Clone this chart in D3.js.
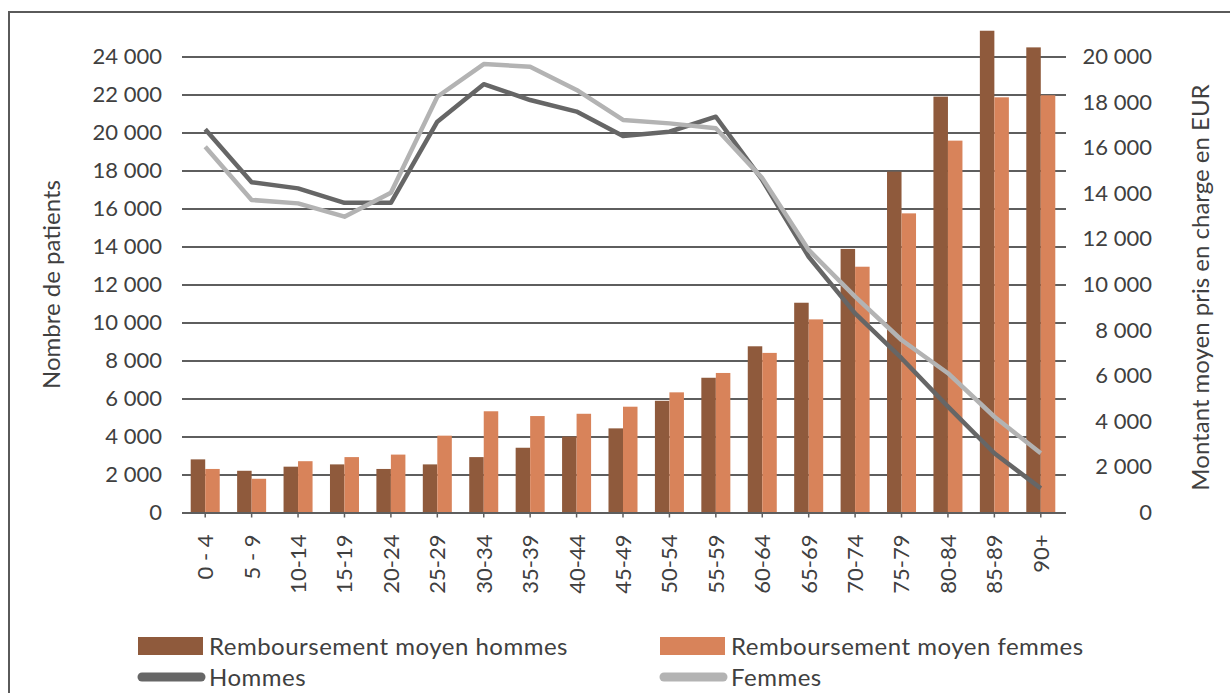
<!DOCTYPE html>
<html><head><meta charset="utf-8">
<script src="https://cdn.jsdelivr.net/npm/d3@7"></script>
<style>
body{margin:0;background:#fff;}
text{font-family:Lato,"Open Sans",sans-serif;fill:#404040;}
</style></head><body>
<svg id="chart" width="1230" height="693"></svg>
<script>
// ---- data ----
const categories = ["0 - 4","5 - 9","10-14","15-19","20-24","25-29","30-34","35-39","40-44","45-49","50-54","55-59","60-64","65-69","70-74","75-79","80-84","85-89","90+"];
// Remboursement moyen (EUR, right axis)
const rembHommes = [2330,1830,2010,2110,1910,2110,2430,2840,3330,3690,4900,5910,7290,9200,11560,14950,18240,21130,20400];
const rembFemmes = [1910,1480,2250,2430,2540,3370,4440,4230,4330,4640,5270,6120,7000,8470,10780,13120,16310,18210,18300];
// Nombre de patients (left axis)
const patientsHommes = [20170,17380,17060,16300,16300,20570,22540,21710,21100,19820,20040,20830,17500,13460,10480,8120,5570,3120,1270];
const patientsFemmes = [19250,16450,16270,15570,16830,21880,23600,23460,22240,20660,20480,20220,17600,13820,11360,9080,7330,5040,3120];
// tick values
const leftTicks = [0,2000,4000,6000,8000,10000,12000,14000,16000,18000,20000,22000,24000];
const rightTicks = [0,2000,4000,6000,8000,10000,12000,14000,16000,18000,20000];
const leftTitle = "Nombre de patients";
const rightTitle = "Montant moyen pris en charge en EUR";
const seriesNames = ["Remboursement moyen hommes","Remboursement moyen femmes","Hommes","Femmes"];

// ---- layout ----
const W = 1230, H = 693;
const plot = {left:182, right:1064, top:56.5, bottom:512.5};
const colors = {barH:"#8f5a3c", barF:"#d8835a", lineH:"#666666", lineF:"#b3b3b3", grid:"#5e5e5e"};

const svg = d3.select("#chart");
svg.append("rect").attr("width", W).attr("height", H).attr("fill", "#fff");
svg.append("path").attr("d", `M9,${H+5}V12H${W+5}`)
  .attr("fill","none").attr("stroke","#5a5a5a").attr("stroke-width",2);

const x = d3.scaleBand().domain(categories).range([plot.left, plot.right])
  .paddingInner(0.375).paddingOuter(0.1875);
const xSub = d3.scaleBand().domain(["h","f"]).range([0, x.bandwidth()]);
const yL = d3.scaleLinear().domain([0,24000]).range([plot.bottom, plot.top]);
const yR = d3.scaleLinear().domain([0,20000]).range([plot.bottom, plot.top]);
const fmt = d3.formatLocale({decimal:",", thousands:" ", grouping:[3], currency:["","€"]}).format(",d");

// left axis + gridlines
const gL = svg.append("g").attr("transform",`translate(${plot.left},0)`)
  .call(d3.axisLeft(yL).tickValues(leftTicks).tickFormat(fmt)
    .tickSize(-(plot.right - plot.left + 2)).tickPadding(20));
gL.select(".domain").remove();
gL.selectAll("line").attr("stroke", colors.grid).attr("stroke-width", 2.2);
gL.selectAll("text").attr("font-size", 22).attr("font-family", "Lato").attr("fill","#404040");

// right axis
const gR = svg.append("g").attr("transform",`translate(${plot.right},0)`)
  .call(d3.axisRight(yR).tickValues(rightTicks).tickFormat(fmt).tickSize(0).tickPadding(88));
gR.select(".domain").remove();
gR.selectAll("text").attr("text-anchor","end").attr("font-size", 22).attr("font-family", "Lato").attr("fill","#404040");

// bars
const bars = svg.append("g");
bars.selectAll("rect.h").data(categories).join("rect").attr("class","h")
  .attr("x", d => x(d) + xSub("h")).attr("width", xSub.bandwidth())
  .attr("y", (d,i) => yR(rembHommes[i])).attr("height", (d,i) => yR(0) - yR(rembHommes[i]))
  .attr("fill", colors.barH);
bars.selectAll("rect.f").data(categories).join("rect").attr("class","f")
  .attr("x", d => x(d) + xSub("f")).attr("width", xSub.bandwidth())
  .attr("y", (d,i) => yR(rembFemmes[i])).attr("height", (d,i) => yR(0) - yR(rembFemmes[i]))
  .attr("fill", colors.barF);

// x axis
const gX = svg.append("g").attr("transform",`translate(0,${plot.bottom})`)
  .call(d3.axisBottom(x).tickSize(5).tickSizeOuter(0));
gX.select(".domain").attr("stroke", colors.grid).attr("stroke-width", 2.2);
gX.selectAll("line").attr("stroke", colors.grid).attr("stroke-width", 1.5);
gX.selectAll("text")
  .attr("transform","rotate(-90)").attr("x", -22).attr("y", 0).attr("dy","0.36em")
  .attr("text-anchor","end").attr("font-size", 22).attr("font-family","Lato").attr("fill","#404040");

// lines
const line = d3.line().x((d,i) => x(categories[i]) + x.bandwidth()/2).y(d => yL(d));
svg.append("path").datum(patientsHommes).attr("d", line)
  .attr("fill","none").attr("stroke", colors.lineH).attr("stroke-width", 4.5).attr("stroke-linejoin","round");
svg.append("path").datum(patientsFemmes).attr("d", line)
  .attr("fill","none").attr("stroke", colors.lineF).attr("stroke-width", 4.5).attr("stroke-linejoin","round");

// axis titles
svg.append("text").attr("transform",`translate(60,${(plot.top+plot.bottom)/2}) rotate(-90)`)
  .attr("text-anchor","middle").attr("font-size",24).text(leftTitle);
svg.append("text").attr("transform",`translate(1209,${(plot.top+plot.bottom)/2+3}) rotate(-90)`)
  .attr("text-anchor","middle").attr("font-size",24).text(rightTitle);

// legend
const legendItems = [
  {name: seriesNames[0], kind:"rect", color: colors.barH, x:138, y:646},
  {name: seriesNames[1], kind:"rect", color: colors.barF, x:660, y:646},
  {name: seriesNames[2], kind:"line", color: colors.lineH, x:138, y:677},
  {name: seriesNames[3], kind:"line", color: colors.lineF, x:660, y:677}
];
const lg = svg.append("g").selectAll("g").data(legendItems).join("g")
  .attr("transform", d => `translate(${d.x},${d.y})`);
lg.filter(d => d.kind === "rect").append("rect")
  .attr("x",0).attr("y",-9).attr("width",65).attr("height",18).attr("fill", d => d.color);
lg.filter(d => d.kind === "line").append("line")
  .attr("x1",4).attr("x2",63).attr("y1",0).attr("y2",0)
  .attr("stroke", d => d.color).attr("stroke-width",9).attr("stroke-linecap","round");
lg.append("text").attr("x",71).attr("dy","0.36em").attr("font-size",24)
  .attr("letter-spacing","0.5px").text(d => d.name);
</script>
</body></html>
